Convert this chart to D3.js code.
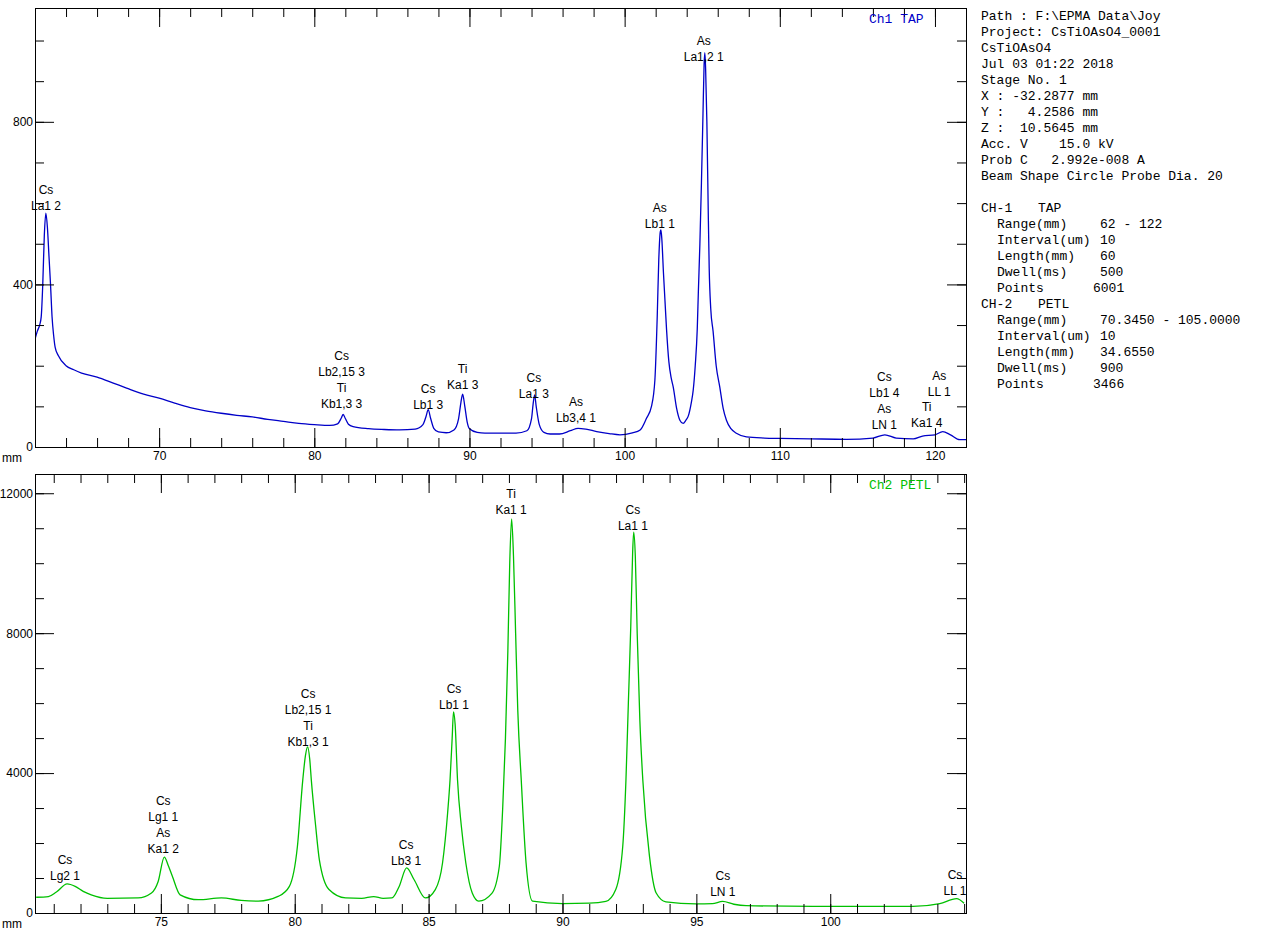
<!DOCTYPE html>
<html>
<head>
<meta charset="utf-8">
<title>CsTiOAsO4 WDS scan</title>
<script src="https://cdn.jsdelivr.net/npm/d3@7"></script>
<style>
body { margin: 0; background: #fff; }
svg text { font-family: "Liberation Sans", Arial, sans-serif; font-size: 12px; fill: #000; }
svg text.mono { font-family: "Liberation Mono", "Courier New", monospace; font-size: 13px; white-space: pre; }
</style>
</head>
<body>
<svg id="chart" width="1276" height="932"></svg>
<script>
// CH-1 TAP scan, position (mm) and counts
const tapMm = [62.0, 62.15, 62.3, 62.4, 62.5, 62.6, 62.7, 62.8, 62.9, 63.0, 63.1, 63.2, 63.3, 63.5, 64.0, 64.5, 65.0, 66.0, 67.0, 67.9, 69.0,
  70.0, 71.0, 72.0, 73.0, 74.0, 75.0, 76.0, 77.0, 78.0, 79.0, 80.0, 81.0, 81.5, 81.75, 81.86, 82.0, 82.2, 82.5, 83.5, 84.5,
  85.5, 86.5, 87.0, 87.2, 87.34, 87.5, 87.7, 88.0, 88.5, 89.0, 89.3, 89.45, 89.56, 89.7, 89.85, 90.0, 90.5, 91.0, 92.0, 93.0,
  93.7, 94.0, 94.1, 94.2, 94.3, 94.5, 94.8, 95.2, 95.8, 96.5, 97.0, 97.5, 98.2, 99.0, 99.7, 100.5, 101.0, 101.4, 101.73, 101.95,
  102.1, 102.2, 102.3, 102.34, 102.4, 102.5, 102.6, 102.7, 102.85, 103.0, 103.13, 103.35, 103.56, 103.77, 103.95, 104.1, 104.3, 104.42, 104.55, 104.68,
  104.75, 104.85, 104.95, 105.05, 105.12, 105.17, 105.22, 105.3, 105.38, 105.45, 105.55, 105.7, 105.9, 106.13, 106.35, 106.56, 106.85, 107.2, 107.85, 109.0,
  110.0, 112.0, 114.3, 116.0, 116.77, 117.5, 118.6, 119.2, 120.0, 120.5, 121.0, 121.6, 122.0];
const tapCounts = [265, 285, 300, 320, 400, 520, 575, 540, 470, 400, 320, 275, 245, 225, 200, 190, 182, 172, 158, 145, 130,
  120, 108, 97, 89, 83, 78, 74, 68, 63, 58, 55, 53, 57, 72, 80, 70, 56, 50, 45, 43,
  42, 44, 55, 75, 92, 70, 46, 37, 35, 42, 70, 110, 130, 100, 62, 45, 36, 34, 34, 34,
  40, 70, 105, 128, 100, 55, 36, 32, 32, 40, 46, 44, 38, 33, 30, 35, 42, 70, 100, 165,
  320, 460, 530, 534, 510, 430, 360, 290, 210, 170, 148, 95, 66, 58, 66, 76, 110, 140, 200, 290,
  380, 500, 650, 820, 940, 970, 930, 800, 600, 440, 340, 285, 200, 148, 95, 66, 45, 34, 25, 22,
  21, 20, 19, 22, 30, 22, 20, 27, 30, 38, 30, 18, 18];

// CH-2 PETL scan
const petlMm = [70.345, 70.8, 71.1, 71.5, 71.8, 72.1, 72.4, 73.0, 74.15, 74.65, 74.9, 75.13, 75.28, 75.43, 75.72, 76.4, 77.26, 78.0, 78.64, 79.4,
  79.8, 80.1, 80.3, 80.4, 80.48, 80.56, 80.62, 80.78, 80.92, 81.28, 81.9, 82.5, 82.95, 83.3, 83.63, 83.9, 84.18, 84.46, 84.88, 85.25,
  85.52, 85.71, 85.8, 85.88, 85.93, 85.99, 86.08, 86.22, 86.39, 86.63, 86.87, 87.37, 87.64, 87.77, 87.87, 87.96, 88.03, 88.1, 88.17, 88.25,
  88.33, 88.46, 88.64, 88.88, 89.99, 91.0, 91.62, 91.99, 92.25, 92.37, 92.46, 92.55, 92.62, 92.66, 92.72, 92.79, 92.89, 93.0, 93.25, 93.5,
  93.86, 94.98, 95.6, 95.98, 96.4, 96.86, 99.35, 103.09, 104.09, 104.72, 105.0];
const petlCounts = [450, 470, 600, 830, 760, 620, 520, 420, 430, 570, 900, 1600, 1350, 1050, 520, 380, 430, 360, 340, 480,
  760, 1900, 3800, 4500, 4750, 4400, 3800, 2500, 1520, 670, 430, 420, 470, 420, 430, 760, 1290, 950, 430, 670,
  1430, 2860, 3800, 5000, 5750, 5400, 3800, 2500, 1430, 570, 340, 570, 1330, 3050, 5000, 7500, 10000, 11270, 10200, 8000,
  5800, 3800, 1430, 340, 270, 280, 330, 670, 1900, 3800, 6000, 8200, 10300, 10890, 10200, 8000, 5500, 3800, 1620, 570,
  320, 260, 270, 330, 250, 210, 190, 190, 270, 410, 280];

// peak markers: position (mm), count level of the lowest text line, text lines
const tapLabelMm = [62.71, 81.76, 87.34, 89.56, 94.15, 96.86, 102.27, 105.1, 116.74, 119.47, 120.28];
const tapLabelLevel = [583, 95, 93, 143, 121, 62, 540, 950, 44, 48, 126];
const tapLabelText = [['Cs', 'La1 2'], ['Cs', 'Lb2,15 3', 'Ti', 'Kb1,3 3'], ['Cs', 'Lb1 3'], ['Ti', 'Ka1 3'], ['Cs', 'La1 3'],
  ['As', 'Lb3,4 1'], ['As', 'Lb1 1'], ['As', 'La1,2 1'], ['Cs', 'Lb1 4', 'As', 'LN 1'], ['Ti', 'Ka1 4'], ['As', 'LL 1']];

const petlLabelMm = [71.42, 75.09, 80.5, 84.16, 85.95, 88.08, 92.63, 95.99, 104.66];
const petlLabelLevel = [931, 1714, 4780, 1360, 5837, 11408, 10951, 474, 523];
const petlLabelText = [['Cs', 'Lg2 1'], ['Cs', 'Lg1 1', 'As', 'Ka1 2'], ['Cs', 'Lb2,15 1', 'Ti', 'Kb1,3 1'], ['Cs', 'Lb3 1'],
  ['Cs', 'Lb1 1'], ['Ti', 'Ka1 1'], ['Cs', 'La1 1'], ['Cs', 'LN 1'], ['Cs', 'LL 1']];

// measurement info
const infoLines = ['Path : F:\\EPMA Data\\Joy', 'Project: CsTiOAsO4_0001', 'CsTiOAsO4', 'Jul 03 01:22 2018', 'Stage No. 1',
  'X : -32.2877 mm', 'Y :   4.2586 mm', 'Z :  10.5645 mm', 'Acc. V    15.0 kV', 'Prob C   2.992e-008 A',
  'Beam Shape Circle Probe Dia. 20'];
const ch1Rows = [['Range(mm)', '62 - 122'], ['Interval(um)', '10'], ['Length(mm)', '60'], ['Dwell(ms)', '500'], ['Points', '6001']];
const ch2Rows = [['Range(mm)', '70.3450 - 105.0000'], ['Interval(um)', '10'], ['Length(mm)', '34.6550'], ['Dwell(ms)', '900'], ['Points', '3466']];

const svg = d3.select('#chart');
const left = 35, right = 966;

function drawPanel(p) {
  let x = d3.scaleLinear().domain(p.xDomain).range([left, right]);
  let y = d3.scaleLinear().domain(p.yDomain).range([p.bottom, p.top]);

  let clipId = 'clip-' + p.name;
  svg.append('clipPath').attr('id', clipId)
    .append('rect')
    .attr('x', left).attr('y', p.top)
    .attr('width', right - left).attr('height', p.bottom - p.top);
  // labels may run out on the left, but are cut at the right frame
  svg.append('clipPath').attr('id', clipId + '-lab')
    .append('rect')
    .attr('x', 0).attr('y', p.top)
    .attr('width', right).attr('height', p.bottom - p.top);

  let g = svg.append('g');

  g.append('path')
    .datum(d3.zip(p.mm, p.counts))
    .attr('clip-path', 'url(#' + clipId + ')')
    .attr('fill', 'none')
    .attr('stroke', p.color)
    .attr('stroke-width', 1.3)
    .attr('d', d3.line().x(d => x(d[0])).y(d => y(d[1])).curve(d3.curveMonotoneX));

  // frame
  g.append('rect')
    .attr('x', left + 0.5).attr('y', p.top + 0.5)
    .attr('width', right - left).attr('height', p.bottom - p.top)
    .attr('fill', 'none').attr('stroke', '#000');

  // ticks on all four sides, pointing inwards
  let sides = [
    [d3.axisBottom(x), 'translate(0,' + p.bottom + ')', p.xMinor, p.xMajor, 4],
    [d3.axisTop(x), 'translate(0,' + p.top + ')', p.xMinor, p.xMajor, -1],
    [d3.axisLeft(y), 'translate(' + left + ',0)', p.yMinor, p.yMajor, 2],
    [d3.axisRight(y), 'translate(' + right + ',0)', p.yMinor, p.yMajor, -1]
  ];
  sides.forEach(function(s) {
    g.append('g').attr('transform', s[1])
      .call(s[0].tickValues(s[2]).tickSize(-9).tickFormat(''))
      .call(a => a.select('.domain').remove());
    g.append('g').attr('transform', s[1])
      .call(s[0].tickValues(s[3]).tickSize(-19).tickPadding(Math.max(s[4], 0))
        .tickFormat(s[4] >= 0 ? d3.format('d') : ''))
      .call(a => a.select('.domain').remove());
  });
  g.selectAll('.tick line').attr('stroke', '#000');

  g.append('text')
    .attr('x', 2).attr('y', p.bottom + 15)
    .text('mm');

  g.append('text')
    .attr('class', 'mono')
    .attr('x', 869).attr('y', p.top + 15)
    .style('fill', p.color)
    .text(p.title);

  // peak identifications
  let labels = g.append('g').attr('clip-path', 'url(#' + clipId + '-lab)');
  p.labelMm.forEach(function(mm, i) {
    let lines = p.labelText[i];
    let base = y(p.labelLevel[i]);
    lines.forEach(function(t, j) {
      labels.append('text')
        .attr('x', x(mm))
        .attr('y', base - (lines.length - 1 - j) * 16)
        .attr('text-anchor', 'middle')
        .text(t);
    });
  });
}

drawPanel({
  name: 'tap', title: 'Ch1 TAP', color: '#0000c8',
  top: 8, bottom: 447,
  xDomain: [62, 122], yDomain: [0, 1080],
  xMinor: d3.range(62, 123, 2), xMajor: d3.range(70, 121, 10),
  yMinor: d3.range(0, 1081, 100), yMajor: [0, 400, 800],
  mm: tapMm, counts: tapCounts,
  labelMm: tapLabelMm, labelLevel: tapLabelLevel, labelText: tapLabelText
});

drawPanel({
  name: 'petl', title: 'Ch2 PETL', color: '#00c000',
  top: 474, bottom: 913,
  xDomain: [70.30, 105.07], yDomain: [0, 12550],
  xMinor: d3.range(71, 105.5, 1), xMajor: d3.range(75, 101, 5),
  yMinor: d3.range(0, 12551, 1000), yMajor: [0, 4000, 8000, 12000],
  mm: petlMm, counts: petlCounts,
  labelMm: petlLabelMm, labelLevel: petlLabelLevel, labelText: petlLabelText
});

// info text on the right
let info = svg.append('g');
infoLines.forEach(function(t, i) {
  info.append('text').attr('class', 'mono').attr('x', 981).attr('y', 20 + i * 16).text(t);
});
function channelBlock(name, crystal, rows, y0) {
  info.append('text').attr('class', 'mono').attr('x', 981).attr('y', y0).text(name);
  info.append('text').attr('class', 'mono').attr('x', 1038).attr('y', y0).text(crystal);
  rows.forEach(function(r, i) {
    let yy = y0 + (i + 1) * 16;
    info.append('text').attr('class', 'mono').attr('x', 997).attr('y', yy).text(r[0]);
    info.append('text').attr('class', 'mono').attr('x', r[0] === 'Points' ? 1093 : 1100).attr('y', yy).text(r[1]);
  });
}
channelBlock('CH-1', 'TAP', ch1Rows, 212);
channelBlock('CH-2', 'PETL', ch2Rows, 308);
</script>
</body>
</html>
